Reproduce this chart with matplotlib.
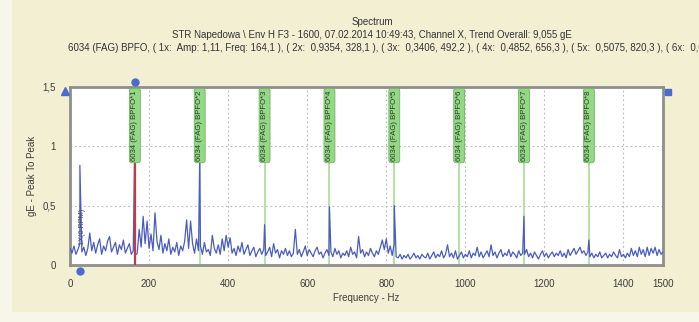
import numpy as np
import matplotlib
matplotlib.use("Agg")
import matplotlib.pyplot as plt
from matplotlib.patches import Rectangle

# ---- data ----
base_step = 5.0  # Hz between baseline samples, 0..1500
baseline = [
    0.14, 0.10, 0.16, 0.09, 0.13, 0.18, 0.11, 0.15, 0.08, 0.14,
    0.27, 0.12, 0.19, 0.10, 0.17, 0.22, 0.09, 0.16, 0.12, 0.20,
    0.24, 0.11, 0.15, 0.19, 0.09, 0.17, 0.13, 0.21, 0.10, 0.14,
    0.18, 0.09, 0.12, 0.08, 0.10, 0.30, 0.15, 0.41, 0.18, 0.37,
    0.14, 0.26, 0.12, 0.44, 0.20, 0.13, 0.25, 0.10, 0.18, 0.12,
    0.22, 0.09, 0.15, 0.11, 0.19, 0.08, 0.16, 0.12, 0.20, 0.38,
    0.14, 0.37, 0.18, 0.10, 0.22, 0.12, 0.16, 0.09, 0.19, 0.11,
    0.13, 0.08, 0.25, 0.14, 0.10, 0.17, 0.09, 0.22, 0.12, 0.25,
    0.15, 0.23, 0.10, 0.14, 0.08, 0.16, 0.11, 0.19, 0.09, 0.13,
    0.17, 0.08, 0.12, 0.15, 0.07, 0.11, 0.14, 0.09, 0.13, 0.08,
    0.11, 0.15, 0.07, 0.18, 0.10, 0.13, 0.06, 0.12, 0.09, 0.14,
    0.08, 0.12, 0.07, 0.10, 0.30, 0.09, 0.13, 0.07, 0.11, 0.16,
    0.08, 0.13, 0.10, 0.07, 0.12, 0.15, 0.09, 0.11, 0.06, 0.10,
    0.13, 0.08, 0.11, 0.07, 0.14, 0.09, 0.12, 0.06, 0.10, 0.08,
    0.12, 0.07, 0.15, 0.09, 0.11, 0.06, 0.24, 0.10, 0.13, 0.07,
    0.11, 0.08, 0.14, 0.10, 0.07, 0.12, 0.09, 0.15, 0.21, 0.13,
    0.22, 0.10, 0.16, 0.08, 0.18, 0.07, 0.06, 0.09, 0.05, 0.08,
    0.06, 0.09, 0.05, 0.07, 0.10, 0.06, 0.08, 0.05, 0.09, 0.07,
    0.06, 0.10, 0.05, 0.08, 0.11, 0.06, 0.09, 0.07, 0.12, 0.06,
    0.09, 0.17, 0.07, 0.10, 0.06, 0.12, 0.05, 0.08, 0.11, 0.06,
    0.09, 0.07, 0.12, 0.06, 0.10, 0.08, 0.15, 0.07, 0.11, 0.06,
    0.09, 0.12, 0.07, 0.17, 0.08, 0.11, 0.06, 0.10, 0.13, 0.07,
    0.10, 0.08, 0.13, 0.07, 0.11, 0.09, 0.06, 0.12, 0.08, 0.10,
    0.09, 0.13, 0.07, 0.10, 0.06, 0.11, 0.08, 0.05, 0.09, 0.12,
    0.07, 0.10, 0.06, 0.09, 0.11, 0.07, 0.10, 0.08, 0.12, 0.07,
    0.10, 0.06, 0.13, 0.08, 0.11, 0.14, 0.09, 0.12, 0.15, 0.10,
    0.12, 0.08, 0.11, 0.07, 0.10, 0.06, 0.09, 0.07, 0.11, 0.06,
    0.08, 0.10, 0.06, 0.09, 0.07, 0.11, 0.08, 0.06, 0.13, 0.07,
    0.09, 0.06, 0.10, 0.07, 0.14, 0.08, 0.12, 0.07, 0.15, 0.09,
    0.13, 0.07, 0.15, 0.08, 0.14, 0.10, 0.15, 0.08, 0.13, 0.09,
    0.11,
]
peak_freq = [25.0, 164.1, 328.1, 492.2, 656.3, 820.3, 1148.4, 1312.5]
peak_amp = [0.84, 1.11, 0.88, 0.34, 0.49, 0.50, 0.41, 0.21]

bpfo_freq = [164.1, 328.1, 492.2, 656.3, 820.3, 984.4, 1148.4, 1312.5]
bpfo_labels = [f"6034 (FAG) BPFO*{i}" for i in range(1, 9)]
rpm_freq = 25.0

xticks = [0, 200, 400, 600, 800, 1000, 1200, 1400, 1500]
yticks = [0, 0.5, 1, 1.5]
ytick_labels = ["0", "0,5", "1", "1,5"]

title1 = "Spectrum"
title2 = "STR Napedowa \\ Env H F3 - 1600, 07.02.2014 10:49:43, Channel X, Trend Overall: 9,055 gE"
title3 = ("6034 (FAG) BPFO, ( 1x:  Amp: 1,11, Freq: 164,1 ), ( 2x:  0,9354, 328,1 ), "
          "( 3x:  0,3406, 492,2 ), ( 4x:  0,4852, 656,3 ), ( 5x:  0,5075, 820,3 ), ( 6x:  0,05")

# ---- build spectrum ----
bf = np.arange(len(baseline)) * base_step
freq = np.concatenate([bf, peak_freq])
amp = np.concatenate([baseline, peak_amp])
order = np.argsort(freq, kind="stable")
freq, amp = freq[order], amp[order]

plt.rcParams["font.family"] = ["Liberation Sans Narrow", "Liberation Sans", "DejaVu Sans"]

BG = "#f3efd2"
fig = plt.figure(figsize=(6.99, 3.22), dpi=100, facecolor="#f8f6e8")
fig.patches.append(Rectangle((12 / 699, 10 / 322), 1, 1, transform=fig.transFigure,
                             facecolor=BG, edgecolor="none", zorder=-10))
ax = fig.add_axes([70 / 699, 1 - 265 / 322, 593 / 699, 178 / 322])
ax.set_facecolor("white")

# marker lines
for i, f in enumerate(bpfo_freq):
    col = "#c23a48" if i == 0 else "#a9dc98"
    lw = 1.6 if i == 0 else 1.2
    ax.vlines(f, 0, 0.86, color=col, lw=lw, zorder=4 if i == 0 else 2)

ax.plot(freq, amp, color="#4a5cc0", lw=0.9, zorder=3)

for f, lab in zip(bpfo_freq, bpfo_labels):
    ax.text(f, 1.175, lab, rotation=90, ha="center", va="center", fontsize=5.6,
            color="#2a3a2a", zorder=5,
            bbox=dict(boxstyle="round,pad=0.25,rounding_size=0.3", fc="#93d884",
                      ec="#6fb462", lw=0.6))
ax.text(rpm_freq + 6, 0.32, "1X(0 RPM)", rotation=90, ha="center", va="center",
        fontsize=5.2, color="#4a4a6a", zorder=5)

ax.set_xlim(0, 1500)
ax.set_ylim(0, 1.5)
ax.set_xticks(xticks)
ax.set_yticks(yticks)
ax.set_yticklabels(ytick_labels)
ax.tick_params(length=0, labelsize=7, colors="#3c3c3c", pad=10)
ax.tick_params(axis="y", pad=10)
ax.grid(True, color="#b8b8b8", ls=(0, (1.5, 2.5)), lw=0.8)
ax.set_axisbelow(True)
for s in ax.spines.values():
    s.set_color("#8e8e8e")
    s.set_linewidth(2)

ax.set_xlabel("Frequency - Hz", fontsize=7, color="#3c3c3c", labelpad=3)
ax.set_ylabel("gE - Peak To Peak", fontsize=7, color="#3c3c3c", labelpad=4)

# cursor handles
mk = "#4a6ccc"
ax.plot([-12.6], [1.466], marker="^", ms=6, color=mk, clip_on=False, zorder=6)
ax.plot([1513], [1.457], marker="s", ms=4.5, color=mk, clip_on=False, zorder=6)
ax.plot([164.1], [1.54], marker="o", ms=5, color=mk, clip_on=False, zorder=6)
ax.plot([25], [-0.05], marker="o", ms=5, color=mk, clip_on=False, zorder=6)

fig.text(372 / 699, 1 - 22 / 322, title1, ha="center", va="center", fontsize=7, color="#333333")
fig.text(372 / 699, 1 - 35 / 322, title2, ha="center", va="center", fontsize=7, color="#333333")
fig.text(68 / 699, 1 - 48 / 322, title3, ha="left", va="center", fontsize=7, color="#333333")

fig.savefig("out.png", dpi=100, facecolor=fig.get_facecolor())
